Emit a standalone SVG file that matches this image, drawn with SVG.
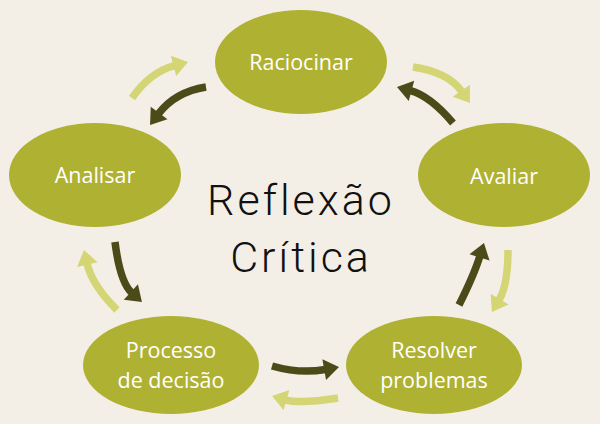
<svg xmlns="http://www.w3.org/2000/svg" width="600" height="424" viewBox="0 0 600 424">
<style>
.node{fill:#afb133;}
.lbl{font-family:"Open Sans","Noto Sans",sans-serif;font-size:21.5px;fill:#ffffff;text-anchor:middle;}
.dark{fill:none;stroke:#4b4b19;stroke-width:7.5;}
.light{fill:none;stroke:#d4d675;stroke-width:7.5;}
.title{font-family:Roboto,"DejaVu Sans",sans-serif;font-weight:300;font-size:43px;fill:#111111;text-anchor:middle;letter-spacing:3px;}
</style>
<defs>
<marker id="hd" markerUnits="userSpaceOnUse" markerWidth="16" markerHeight="22" viewBox="0 -11 16 22" refX="0" refY="0" orient="auto" overflow="visible">
<path d="M-1,-10.5 L14,0 L-1,10.5 Z" fill="#4b4b19"/>
</marker>
<marker id="hl" markerUnits="userSpaceOnUse" markerWidth="16" markerHeight="22" viewBox="0 -11 16 22" refX="0" refY="0" orient="auto" overflow="visible">
<path d="M-1,-10.5 L14,0 L-1,10.5 Z" fill="#d4d675"/>
</marker>
</defs>
<rect width="600" height="424" fill="#f3efe6"/>
<g id="connectors">
<path class="light" d="M132,98 Q150,72 174.5,65.6" marker-end="url(#hl)"/>
<path class="dark" d="M206,87 Q175,92 158.5,113.8" marker-end="url(#hd)"/>
<path class="light" d="M413,67 Q448,72 461.9,91.6" marker-end="url(#hl)"/>
<path class="dark" d="M453,123 Q430,96 410.5,90.7" marker-end="url(#hd)"/>
<path class="dark" d="M115,242 Q120,282 131.6,292.6" marker-end="url(#hd)"/>
<path class="light" d="M117,310 Q92,285 87.1,263.6" marker-end="url(#hl)"/>
<path class="dark" d="M459,305 Q474,275 479.8,256.4" marker-end="url(#hd)"/>
<path class="light" d="M508,250 Q508,285 499.1,300" marker-end="url(#hl)"/>
<path class="dark" d="M272,366 Q300,374 325.2,369.5" marker-end="url(#hd)"/>
<path class="light" d="M338,398 Q300,404 285.5,399.8" marker-end="url(#hl)"/>
</g>
<g id="raciocinar"><ellipse class="node" cx="301" cy="62" rx="86" ry="52"/><text class="lbl" x="301" y="70">Raciocinar</text></g>
<g id="analisar"><ellipse class="node" cx="95" cy="175" rx="86" ry="52"/><text class="lbl" x="95" y="183">Analisar</text></g>
<g id="avaliar"><ellipse class="node" cx="504" cy="175" rx="86" ry="52"/><text class="lbl" x="504" y="184">Avaliar</text></g>
<g id="processo"><ellipse class="node" cx="171" cy="365" rx="88" ry="49"/><text class="lbl" x="171" y="358">Processo</text><text class="lbl" x="171" y="388">de decisão</text></g>
<g id="resolver"><ellipse class="node" cx="434" cy="365" rx="88" ry="49"/><text class="lbl" x="434" y="358">Resolver</text><text class="lbl" x="434" y="388">problemas</text></g>
<g id="title"><text class="title" x="301" y="215">Reflexão</text><text class="title" x="301" y="272">Crítica</text></g>
</svg>
